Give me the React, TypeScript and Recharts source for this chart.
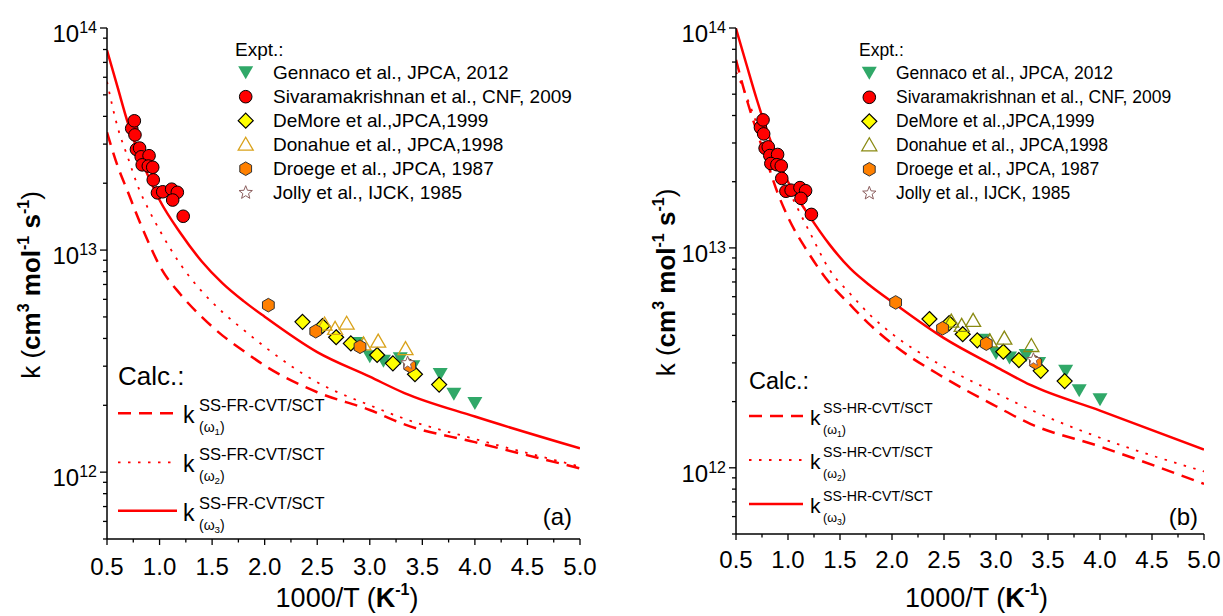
import React from "react";
import { ComposedChart, Line, Scatter, XAxis, YAxis, Legend, Label } from "recharts";

const FONT = "'Liberation Sans', Arial, Helvetica, sans-serif";
const RED = "#FF0000";
const GREEN = "#30A868";
const YELLOW = "#FFFF00";
const ORANGE = "#FF8000";
const STAR = "#8B5E5E";

// grid of 1000/T values for the calculated curves
const CALC_X = [0.5, 0.6, 0.7, 0.8, 0.9, 1.0, 1.2, 1.4, 1.6, 1.8, 2.0, 2.5, 3.0, 3.33, 4.0, 5.0];

// panel (a): SS-FR-CVT/SCT
const FR_W1 = [3.39e13, 2.4e13, 1.82e13, 1.38e13, 1.07e13, 8.51e12, 6.31e12, 5.01e12, 4.12e12, 3.51e12, 3.02e12, 2.29e12, 1.905e12, 1.64e12, 1.365e12, 1.04e12];
const FR_W2 = [5.73e13, 3.59e13, 2.6e13, 1.905e13, 1.51e13, 1.23e13, 8.61e12, 6.53e12, 5.25e12, 4.37e12, 3.67e12, 2.54e12, 2.0e12, 1.74e12, 1.41e12, 1.06e12];
const FR_W3 = [7.94e13, 5.43e13, 3.72e13, 2.75e13, 2.11e13, 1.68e13, 1.19e13, 8.91e12, 7.08e12, 5.89e12, 5.01e12, 3.47e12, 2.69e12, 2.27e12, 1.78e12, 1.28e12];

// panel (b): SS-HR-CVT/SCT
const HR_W1 = [7.16e13, 4.79e13, 3.39e13, 2.45e13, 1.78e13, 1.38e13, 9.44e12, 6.92e12, 5.5e12, 4.42e12, 3.67e12, 2.57e12, 1.905e12, 1.585e12, 1.25e12, 8.45e11];
const HR_W2 = [6.31e13, 4.9e13, 3.67e13, 2.82e13, 2.24e13, 1.84e13, 1.2e13, 7.94e12, 6.17e12, 4.9e12, 4.07e12, 2.88e12, 2.19e12, 1.84e12, 1.37e12, 9.62e11];
const HR_W3 = [9.95e13, 6.84e13, 4.73e13, 3.39e13, 2.54e13, 2.0e13, 1.41e13, 1.035e13, 8.04e12, 6.68e12, 5.69e12, 3.89e12, 2.88e12, 2.38e12, 1.82e12, 1.21e12];

// experiments
const GENNACO_X = [2.88, 3.0, 3.13, 3.29, 3.41, 3.67, 3.8, 4.0];
const GENNACO_K = [3.8e12, 3.31e12, 3.16e12, 3.24e12, 2.98e12, 2.75e12, 2.24e12, 2.04e12];
const SIVA_X = [0.735, 0.76, 0.766, 0.78, 0.81, 0.825, 0.9, 0.835, 0.893, 0.935, 0.94, 0.98, 1.03, 1.115, 1.169, 1.125, 1.225];
const SIVA_K = [3.53e13, 3.82e13, 3.3e13, 2.84e13, 2.88e13, 2.63e13, 2.66e13, 2.42e13, 2.39e13, 2.36e13, 2.07e13, 1.81e13, 1.83e13, 1.88e13, 1.82e13, 1.68e13, 1.42e13];
const DEMORE_X = [2.36, 2.55, 2.68, 2.82, 3.07, 3.22, 3.43, 3.66];
const DEMORE_K = [4.75e12, 4.55e12, 4.05e12, 3.8e12, 3.37e12, 3.09e12, 2.76e12, 2.48e12];
const DONAHUE_X = [2.57, 2.67, 2.78, 2.94, 3.08, 3.34];
const DONAHUE_K = [4.62e12, 4.42e12, 4.66e12, 3.76e12, 3.87e12, 3.58e12];
const DROEGE_X = [2.035, 2.486, 2.907, 3.38];
const DROEGE_K = [5.65e12, 4.31e12, 3.67e12, 3.01e12];
const JOLLY_X = [3.36];
const JOLLY_K = [3.1e12];

const EXPT_NAMES = [
  "Gennaco et al., JPCA, 2012",
  "Sivaramakrishnan et al., CNF, 2009",
  "DeMore et al.,JPCA,1999",
  "Donahue et al., JPCA,1998",
  "Droege et al., JPCA, 1987",
  "Jolly et al., IJCK, 1985",
];

const X_TICKS = [0.5, 0.75, 1.0, 1.25, 1.5, 1.75, 2.0, 2.25, 2.5, 2.75, 3.0, 3.25, 3.5, 3.75, 4.0, 4.25, 4.5, 4.75, 5.0];
const Y_TICKS = [
  5e11, 6e11, 7e11, 8e11, 9e11,
  1e12, 2e12, 3e12, 4e12, 5e12, 6e12, 7e12, 8e12, 9e12,
  1e13, 2e13, 3e13, 4e13, 5e13, 6e13, 7e13, 8e13, 9e13, 1e14,
];

const pts = (xs: number[], ks: number[]) => xs.map((x, i) => ({ x, k: ks[i] }));

type Kind = "tri" | "circle" | "diamond" | "otri" | "hex" | "star";

function Marker({ kind, cx, cy, color }: { kind: Kind; cx: number; cy: number; color?: string }) {
  if (kind === "tri")
    return <polygon points={`${cx - 7.5},${cy - 6.5} ${cx + 7.5},${cy - 6.5} ${cx},${cy + 6.5}`} fill={GREEN} />;
  if (kind === "circle") return <circle cx={cx} cy={cy} r={6.3} fill={RED} stroke="#000" strokeWidth={1} />;
  if (kind === "diamond")
    return (
      <polygon
        points={`${cx},${cy - 7.5} ${cx + 7.5},${cy} ${cx},${cy + 7.5} ${cx - 7.5},${cy}`}
        fill={YELLOW}
        stroke="#000"
        strokeWidth={1.2}
      />
    );
  if (kind === "otri")
    return (
      <polygon
        points={`${cx},${cy - 7.5} ${cx + 7.5},${cy + 5.5} ${cx - 7.5},${cy + 5.5}`}
        fill="none"
        stroke={color}
        strokeWidth={1.3}
      />
    );
  if (kind === "hex") {
    const r = 6.8;
    const p = [0, 1, 2, 3, 4, 5]
      .map((i) => {
        const a = (Math.PI / 3) * i - Math.PI / 2;
        return `${cx + r * Math.cos(a)},${cy + r * Math.sin(a)}`;
      })
      .join(" ");
    return <polygon points={p} fill={ORANGE} stroke="#333" strokeWidth={1} />;
  }
  const p = Array.from({ length: 10 }, (_, i) => {
    const r = i % 2 === 0 ? 7 : 3;
    const a = (Math.PI / 5) * i - Math.PI / 2;
    return `${cx + r * Math.cos(a)},${cy + r * Math.sin(a)}`;
  }).join(" ");
  return <polygon points={p} fill="#fff" stroke={STAR} strokeWidth={1} />;
}

const CURVE_STYLES = [
  { dash: "13 8", width: 2.5 },
  { dash: "2.5 7.5", width: 1.8 },
  { dash: undefined, width: 2.5 },
];

const PANELS = [
  {
    tag: "(a)",
    scheme: "SS-FR-CVT/SCT",
    curves: [FR_W1, FR_W2, FR_W3],
    donahue: "#D9A21B",
    left: 0,
    width: 615,
    plotLeft: 107,
    plotRight: 580,
    plotBottom: 539,
    xTickDy: 36,
    xLabelDx: 3.5,
    yLabelDx: -67,
    expt: { x: 235, symX: 245.7, textX: 273, fs: 19, titleY: 56, rowY: 72.7 },
    calc: { x: 118, titleY: 385, titleFs: 26, x2: 177, ys: [413.3, 462.3, 510.7], kX: 183, kFs: 23, supX: 199, supFs: 16.5, subFs: 14, kDy: 10, supDy: -2, subDy: 19 },
    tagX: 572,
  },
  {
    tag: "(b)",
    scheme: "SS-HR-CVT/SCT",
    curves: [HR_W1, HR_W2, HR_W3],
    donahue: "#8A8A12",
    left: 615,
    width: 608,
    plotLeft: 121,
    plotRight: 589,
    plotBottom: 534,
    xTickDy: 34,
    xLabelDx: 6.5,
    yLabelDx: -61,
    expt: { x: 244, symX: 254.3, textX: 281, fs: 17.5, titleY: 56, rowY: 73.3 },
    calc: { x: 134, titleY: 389, titleFs: 23.5, x2: 188, ys: [416, 460, 504], kX: 195, kFs: 21, supX: 208, supFs: 14.2, subFs: 12.5, kDy: 9, supDy: -3, subDy: 18 },
    tagX: 583,
  },
];

const isMajorX = (v: number) => Math.abs(v * 2 - Math.round(v * 2)) < 1e-6;
const isMajorY = (v: number) => Math.abs(Math.log10(v) - Math.round(Math.log10(v))) < 1e-6;

function Panel({ cfg }: { cfg: any }) {
  const H = 616;
  const expt: { kind: Kind; xs: number[]; ks: number[]; color?: string }[] = [
    { kind: "tri", xs: GENNACO_X, ks: GENNACO_K },
    { kind: "circle", xs: SIVA_X, ks: SIVA_K },
    { kind: "diamond", xs: DEMORE_X, ks: DEMORE_K },
    { kind: "otri", xs: DONAHUE_X, ks: DONAHUE_K, color: cfg.donahue },
    { kind: "hex", xs: DROEGE_X, ks: DROEGE_K },
    { kind: "star", xs: JOLLY_X, ks: JOLLY_K },
  ];

  const bottomTick = (p: any) => {
    const major = isMajorX(p.payload.value);
    return (
      <g>
        <line x1={p.x} x2={p.x} y1={p.y} y2={p.y + (major ? 6 : 3.5)} stroke="#000" strokeWidth={1.3} />
        {major && (
          <text x={p.x} y={p.y + cfg.xTickDy} textAnchor="middle" fontSize={24} fontFamily={FONT} fill="#000">
            {p.payload.value.toFixed(1)}
          </text>
        )}
      </g>
    );
  };
  const topTick = (p: any) => {
    const major = isMajorX(p.payload.value);
    return <line x1={p.x} x2={p.x} y1={p.y} y2={p.y - (major ? 6 : 3.5)} stroke="#000" strokeWidth={1.3} />;
  };
  const leftTick = (p: any) => {
    const v = p.payload.value;
    const major = isMajorY(v);
    return (
      <g>
        <line x1={p.x} x2={p.x - (major ? 7 : 4)} y1={p.y} y2={p.y} stroke="#000" strokeWidth={1.3} />
        {major && (
          <text x={p.x - 10} y={p.y + 14} textAnchor="end" fontFamily={FONT} fill="#000" fontSize={24}>
            10
            <tspan fontSize={16} dy={-9}>
              {Math.round(Math.log10(v))}
            </tspan>
          </text>
        )}
      </g>
    );
  };
  const rightTick = (p: any) => {
    const major = isMajorY(p.payload.value);
    return <line x1={p.x} x2={p.x + (major ? 7 : 4)} y1={p.y} y2={p.y} stroke="#000" strokeWidth={1.3} />;
  };

  const xLabel = (props: any) => {
    const vb = props.viewBox;
    const cx = vb.x + vb.width / 2 + cfg.xLabelDx;
    return (
      <text x={cx} y={607} textAnchor="middle" fontSize={27} fontFamily={FONT} fill="#000">
        {"1000/T ("}
        <tspan fontWeight="bold">K</tspan>
        <tspan fontWeight="bold" fontSize={16} dy={-12}>
          -1
        </tspan>
        <tspan dy={12}>)</tspan>
      </text>
    );
  };
  const yLabel = (props: any) => {
    const vb = props.viewBox;
    const x = vb.x + vb.width + cfg.yLabelDx;
    const y = vb.y + vb.height / 2 + 1.5;
    return (
      <text x={x} y={y} transform={`rotate(-90, ${x}, ${y})`} textAnchor="middle" fontSize={26} fontFamily={FONT} fill="#000">
        {"k ("}
        <tspan fontWeight="bold">cm</tspan>
        <tspan fontWeight="bold" fontSize={16} dy={-11}>3</tspan>
        <tspan fontWeight="bold" dy={11}>{" mol"}</tspan>
        <tspan fontWeight="bold" fontSize={16} dy={-11}>-1</tspan>
        <tspan fontWeight="bold" dy={11}>{" s"}</tspan>
        <tspan fontWeight="bold" fontSize={16} dy={-11}>-1</tspan>
        <tspan dy={11}>)</tspan>
      </text>
    );
  };

  const c = cfg.calc;
  const e = cfg.expt;
  const legendContent = () => (
    <svg width={cfg.width} height={H} style={{ display: "block" }} fontFamily={FONT}>
      <text x={e.x} y={e.titleY} fontSize={e.fs} fill="#000">
        Expt.:
      </text>
      {EXPT_NAMES.map((name, i) => {
        const cy = e.rowY + i * 24;
        return (
          <g key={name}>
            <Marker kind={expt[i].kind} cx={e.symX} cy={cy} color={expt[i].color} />
            <text x={e.textX} y={cy + e.fs * 0.35} fontSize={e.fs} fill="#000">
              {name}
            </text>
          </g>
        );
      })}
      <text x={c.x} y={c.titleY} fontSize={c.titleFs} fill="#000">
        Calc.:
      </text>
      {c.ys.map((ly: number, i: number) => (
        <g key={i}>
          <line
            x1={c.x}
            x2={c.x2}
            y1={ly}
            y2={ly}
            stroke={RED}
            strokeWidth={CURVE_STYLES[i].width}
            strokeDasharray={CURVE_STYLES[i].dash}
          />
          <text x={c.kX} y={ly + c.kDy} fontSize={c.kFs} fill="#000">
            k
          </text>
          <text x={c.supX} y={ly + c.supDy} fontSize={c.supFs} fill="#000">
            {cfg.scheme}
          </text>
          <text x={c.supX} y={ly + c.subDy} fontSize={c.subFs} fill="#000">
            {"(ω"}
            <tspan fontSize={c.subFs * 0.7} dy={3}>
              {i + 1}
            </tspan>
            <tspan dy={-3}>)</tspan>
          </text>
        </g>
      ))}
      <text x={cfg.tagX} y={525} textAnchor="end" fontSize={24} fill="#000">
        {cfg.tag}
      </text>
    </svg>
  );

  return (
    <div style={{ position: "absolute", left: cfg.left, top: 0 }}>
      <ComposedChart
        width={cfg.width}
        height={H}
        margin={{ top: 28, right: cfg.width - cfg.plotRight, bottom: H - cfg.plotBottom - 30, left: 0 }}
      >
        <XAxis
          xAxisId="b"
          dataKey="x"
          type="number"
          domain={[0.5, 5]}
          allowDataOverflow
          ticks={X_TICKS}
          interval={0}
          height={30}
          tickSize={0}
          tickMargin={0}
          tickLine={false}
          axisLine={{ stroke: "#000", strokeWidth: 1.5 }}
          tick={bottomTick}
          label={<Label content={xLabel} />}
        />
        <XAxis
          xAxisId="t"
          orientation="top"
          type="number"
          domain={[0.5, 5]}
          allowDataOverflow
          ticks={X_TICKS}
          interval={0}
          height={0}
          tickSize={0}
          tickMargin={0}
          tickLine={false}
          axisLine={{ stroke: "#000", strokeWidth: 1.5 }}
          tick={topTick}
        />
        <YAxis
          yAxisId="l"
          dataKey="k"
          type="number"
          scale="log"
          domain={[5e11, 1e14]}
          allowDataOverflow
          ticks={Y_TICKS}
          interval={0}
          width={cfg.plotLeft}
          tickSize={0}
          tickMargin={0}
          tickLine={false}
          axisLine={{ stroke: "#000", strokeWidth: 1.5 }}
          tick={leftTick}
          label={<Label content={yLabel} />}
        />
        <YAxis
          yAxisId="r"
          orientation="right"
          type="number"
          scale="log"
          domain={[5e11, 1e14]}
          allowDataOverflow
          ticks={Y_TICKS}
          interval={0}
          width={0}
          tickSize={0}
          tickMargin={0}
          tickLine={false}
          axisLine={{ stroke: "#000", strokeWidth: 1.5 }}
          tick={rightTick}
        />
        {cfg.curves.map((ks: number[], i: number) => (
          <Line
            key={i}
            xAxisId="b"
            yAxisId="l"
            data={pts(CALC_X, ks)}
            dataKey="k"
            type="monotone"
            stroke={RED}
            strokeWidth={CURVE_STYLES[i].width}
            strokeDasharray={CURVE_STYLES[i].dash}
            dot={false}
            activeDot={false}
            isAnimationActive={false}
          />
        ))}
        {expt.map((s, i) => (
          <Scatter
            key={i}
            xAxisId="b"
            yAxisId="l"
            data={pts(s.xs, s.ks)}
            dataKey="k"
            isAnimationActive={false}
            shape={(p: any) => <Marker kind={s.kind} cx={p.cx} cy={p.cy} color={s.color} />}
          />
        ))}
        <Legend
          layout="vertical"
          align="center"
          verticalAlign="middle"
          wrapperStyle={{ left: 0, top: 0, width: cfg.width, height: H, pointerEvents: "none" }}
          content={legendContent}
        />
      </ComposedChart>
    </div>
  );
}

export default function App() {
  return (
    <div style={{ position: "absolute", left: 0, top: 0, width: 1223, height: 616, background: "#fff" }}>
      {PANELS.map((cfg) => (
        <Panel key={cfg.tag} cfg={cfg} />
      ))}
    </div>
  );
}
